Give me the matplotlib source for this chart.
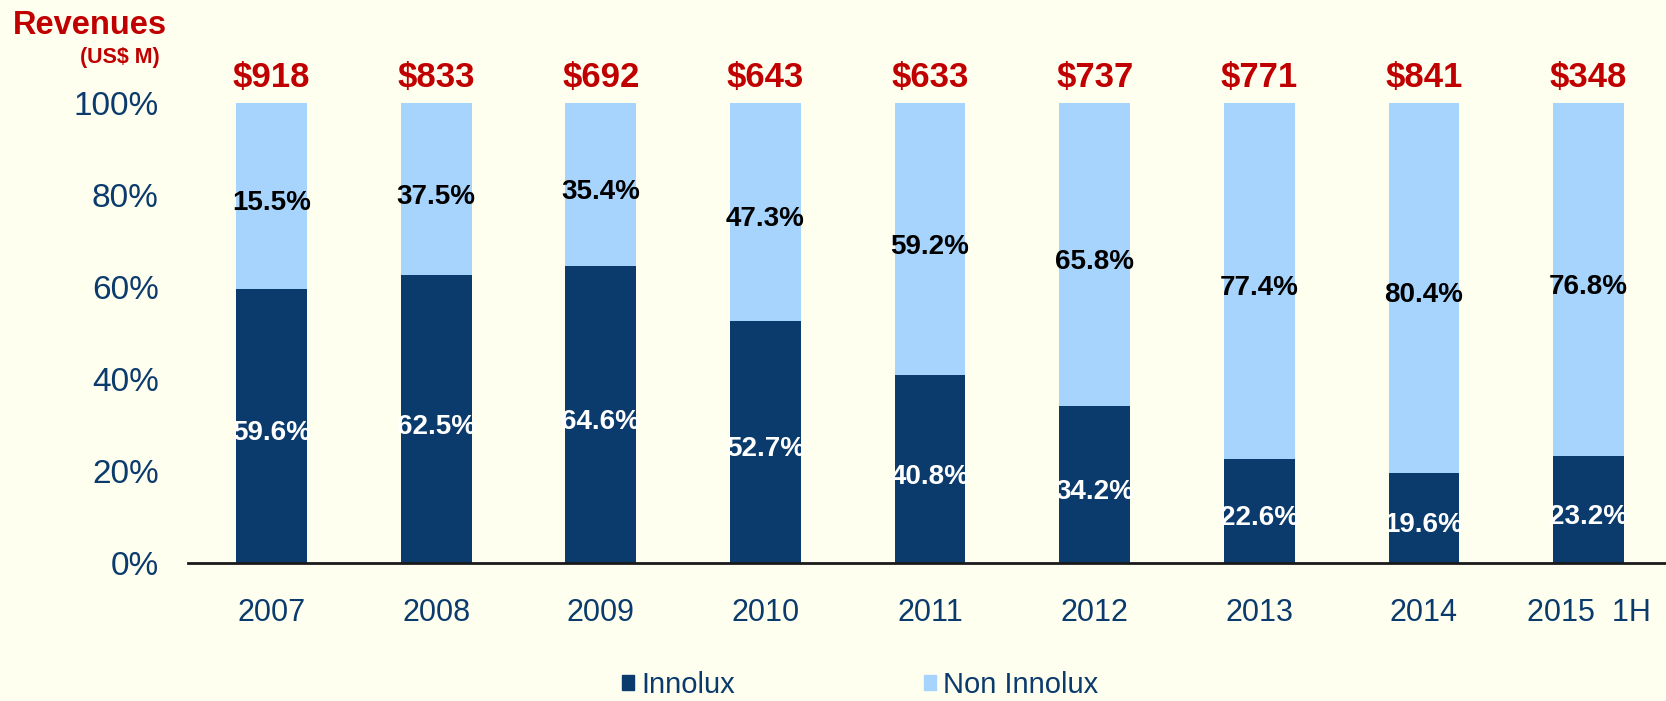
import matplotlib
matplotlib.use("Agg")
import matplotlib.pyplot as plt
from matplotlib.patches import Patch

plt.rcParams["font.family"] = ["Liberation Sans", "DejaVu Sans"]

# data
years = ["2007", "2008", "2009", "2010", "2011", "2012", "2013", "2014", "2015  1H"]
innolux = [59.6, 62.5, 64.6, 52.7, 40.8, 34.2, 22.6, 19.6, 23.2]
non_innolux_labels = [15.5, 37.5, 35.4, 47.3, 59.2, 65.8, 77.4, 80.4, 76.8]
revenues = [918, 833, 692, 643, 633, 737, 771, 841, 348]

BG = "#FFFFF0"
DARK = "#0B3B6C"
LIGHT = "#A6D4FD"
RED = "#C00000"
NAVY = "#0B3B6C"

W, H = 1666, 701
fig = plt.figure(figsize=(W / 100, H / 100), dpi=100, facecolor=BG)
ax = fig.add_axes([188 / W, 138 / H, 1 - 188 / W, 460 / H], facecolor=BG)

x = list(range(len(years)))
rest = [100 - v for v in innolux]
ax.bar(x, innolux, width=0.43, color=DARK, zorder=2)
ax.bar(x, rest, width=0.43, bottom=innolux, color=LIGHT, zorder=2)

for i in x:
    ax.text(i, innolux[i] / 2 - 1.6, f"{innolux[i]:.1f}%", ha="center", va="center",
            color="white", fontsize=20, fontweight="bold", zorder=3)
    ax.text(i, innolux[i] + rest[i] / 2 - 1.6, f"{non_innolux_labels[i]:.1f}%",
            ha="center", va="center", color="black", fontsize=20,
            fontweight="bold", zorder=3)
    ax.text(i, 103.5, f"${revenues[i]}", ha="center", va="baseline", color=RED,
            fontsize=25, fontweight="bold", clip_on=False)

ax.set_xlim(-0.507, 8.47)
ax.set_ylim(0, 100)
ax.set_yticks(range(0, 101, 20))
ax.set_yticklabels([f"{v}%" for v in range(0, 101, 20)])
ax.set_xticks(x)
ax.set_xticklabels(years)
ax.tick_params(axis="y", length=0, pad=21, labelsize=24, labelcolor=NAVY)
ax.tick_params(axis="x", length=0, pad=25, labelsize=22, labelcolor=NAVY)

for s in ["top", "right", "left"]:
    ax.spines[s].set_visible(False)
ax.spines["bottom"].set_linewidth(2)
ax.spines["bottom"].set_color("#1a1a1a")
ax.spines["bottom"].set_zorder(4)

fig.text(13 / W, 1 - 34 / H, "Revenues", color=RED, fontsize=23.5,
         fontweight="bold", ha="left", va="baseline")
fig.text(160 / W, 1 - 63 / H, "(US$ M)", color=RED, fontsize=15.5,
         fontweight="bold", ha="right", va="baseline")

handles = [Patch(color=DARK, label="Innolux"), Patch(color=LIGHT, label="Non Innolux")]
leg = fig.legend(handles=handles, ncol=2, loc="center left",
                 bbox_to_anchor=(622 / W, 1 - 685 / H), frameon=False,
                 fontsize=21, handlelength=0.4, handleheight=0.4,
                 handletextpad=0.25, columnspacing=6.5, borderaxespad=0,
                 borderpad=0)
for t in leg.get_texts():
    t.set_color(NAVY)

fig.savefig("out.png", dpi=100, facecolor=BG)
